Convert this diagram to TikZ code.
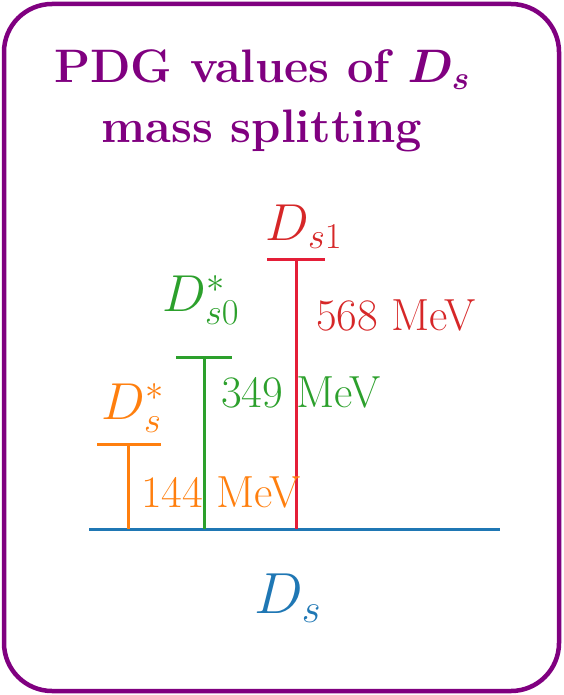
\documentclass[tikz,border=0pt]{standalone}
\usepackage{fix-cm}
\usepackage{amsmath}
\definecolor{framepurple}{RGB}{128,0,128}
\definecolor{lvlblue}{RGB}{31,119,180}
\definecolor{lvlorange}{RGB}{255,127,14}
\definecolor{lvlgreen}{RGB}{44,160,44}
\definecolor{lvlred}{RGB}{228,30,56}
\definecolor{txtred}{RGB}{214,39,40}
\begin{document}
\begin{tikzpicture}[x=1pt,y=-1pt,
  level/.style={line width=3pt},
  lbl/.style={inner sep=0pt,anchor=west,font=\fontsize{45}{48}\selectfont},
  stname/.style={inner sep=0pt,font=\fontsize{52}{56}\selectfont}]
\useasboundingbox (0,0) rectangle (563,695);
\draw[framepurple,line width=4.5pt,rounded corners=48pt] (4,4) rectangle (559,691);
\node[framepurple,inner sep=0pt,align=center,font=\fontsize{47}{60}\selectfont\bfseries] (title) at (262,101)
  {PDG values of $\boldsymbol{D_s}$\\mass splitting};
% base level
\coordinate (b0) at (89,529);
\coordinate (b1) at (500,529);
\draw[lvlblue,level] (b0) -- (b1);
\coordinate (bo) at (128,529);
\coordinate (bg) at (204,529);
\coordinate (br) at (296,529);
% orange D*_s
\coordinate (o0) at (97,444);
\coordinate (o1) at (161,444);
\coordinate (ot) at (128,444);
\draw[lvlorange,level] (o0) -- (o1);
\draw[lvlorange,level] (ot) -- (bo);
% green
\coordinate (g0) at (176,357);
\coordinate (g1) at (232,357);
\coordinate (gt) at (204,357);
\draw[lvlgreen,level] (g0) -- (g1);
\draw[lvlgreen,level] (gt) -- (bg);
% red
\coordinate (r0) at (267,259);
\coordinate (r1) at (325,259);
\coordinate (rt) at (296,259);
\draw[lvlred,level] (r0) -- (r1);
\draw[lvlred,level] (rt) -- (br);
% labels
\node[lbl,text=txtred] (m568) at (316,315) {568 MeV};
\node[lbl,text=lvlgreen] (m349) at (221,392) {349 MeV};
\node[lbl,text=lvlorange] (m144) at (141,492) {144 MeV};
\node[stname,text=txtred] (nDs1) at (304,227) {$D_{s1}$};
\node[stname,text=lvlgreen] (nDs0) at (201,300) {$D^{*}_{s0}$};
\node[stname,text=lvlorange] (nDss) at (133,408) {$D^{*}_{s}$};
\node[stname,text=lvlblue,font=\fontsize{58}{62}\selectfont] (nDs) at (288,598) {$D_{s}$};
\end{tikzpicture}
\end{document}
